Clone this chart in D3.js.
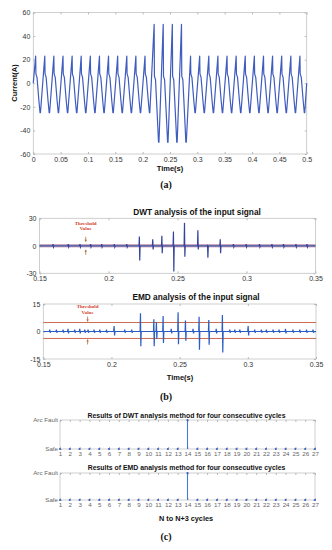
<!DOCTYPE html>
<html>
<head>
<meta charset="utf-8">
<script src="https://cdn.jsdelivr.net/npm/d3@7"></script>
<style>
  body { margin: 0; background: #fff; }
  svg { display: block; font-family: "Liberation Sans", Arial, sans-serif; }
</style>
</head>
<body>
<div id="chart"></div>
<script>
// ---- (a) current waveform, one entry per cycle (60 Hz, 30 cycles)
var peakTimes = [0.0043, 0.0210, 0.0376, 0.0543, 0.0710, 0.0876, 0.1043, 0.1210, 0.1376, 0.1543,
  0.1710, 0.1876, 0.2043, 0.2210, 0.2376, 0.2543, 0.2710, 0.2876, 0.3043, 0.3210,
  0.3376, 0.3543, 0.3710, 0.3876, 0.4043, 0.4210, 0.4376, 0.4543, 0.4710, 0.4876];
var peakValues = [23, 23, 23, 23, 23, 23, 23, 23, 23, 23, 23, 23, 23, 50, 50, 50, 50,
  23, 23, 23, 23, 23, 23, 23, 23, 23, 23, 23, 23, 23];
var shoulderValues = [6, 6, 6, 6, 6, 6, 6, 6, 6, 6, 6, 6, 6, 4, 4, 4, 4,
  6, 6, 6, 6, 6, 6, 6, 6, 6, 6, 6, 6, 6];
var troughValues = [-25, -25, -25, -25, -25, -25, -25, -25, -25, -25, -25, -25, -25, -50, -50, -50, -50,
  -25, -25, -25, -25, -25, -25, -25, -25, -25, -25, -25, -25, -25];
var currentStart = 0, currentEnd = 0;
var timeTicksA = [0, 0.05, 0.1, 0.15, 0.2, 0.25, 0.3, 0.35, 0.4, 0.45, 0.5];
var currentTicks = [-60, -40, -20, 0, 20, 40, 60];

// ---- (b) DWT detail coefficients: spike times, positive and negative swing
var dwtSpikeTimes = [0.2225, 0.2322, 0.2388, 0.2472, 0.2552, 0.2649, 0.2719, 0.2811];
var dwtSpikeUp = [10, 7, 11, 15.5, 25, 17, 1, 7];
var dwtSpikeDown = [-16, -4, -8, -28, -12, -4, -13, -8];
var dwtSmallTimes = [0.160, 0.171, 0.1795, 0.1872, 0.1952, 0.2044, 0.2134,
  0.2907, 0.2999, 0.3096, 0.3186, 0.3270, 0.3360, 0.3440];
var dwtSmallAmp = [1.8, 1.8, 1.8, 1.8, 1.8, 1.8, 1.8, 1.8, 1.8, 1.8, 1.8, 1.8, 1.8, 1.8];
var dwtThreshold = [1.1, -1.1];
var dwtTicks = [-30, 0, 30];

// ---- (b) EMD IMF
var emdSpikeTimes = [0.2214, 0.2312, 0.2331, 0.2380, 0.2490, 0.2544, 0.2644, 0.2715, 0.2815];
var emdSpikeUp = [10, 6.7, 5, 8.5, 10.5, 6, 8, 6.3, 9];
var emdSpikeDown = [-8, -8, -4, -6.3, -7, -5, -10, -7.2, -11.4];
var emdSmallTimes = [0.1549, 0.1598, 0.1647, 0.1683, 0.1732, 0.1769, 0.1806, 0.1830, 0.1874,
  0.1916, 0.1965, 0.2021, 0.2099, 0.2150, 0.2440, 0.2600, 0.2770, 0.2869, 0.2906, 0.2943,
  0.3004, 0.3052, 0.3101, 0.3138, 0.3187, 0.3231, 0.3278, 0.3333, 0.3383, 0.3432, 0.3480];
var emdSmallAmp = [1, 1, 1, 1.5, 1, 1.5, 1, 1, 1, 1, 1, 3, 1, 1, 1.5, 1.5, 1.5, 1, 1, 1,
  3, 1, 1, 1, 1, 1, 1.5, 1, 1, 1, 1];
var emdThreshold = [4.9, -3.8];
var emdTicks = [-15, 0, 15];
var timeTicksB = [0.15, 0.2, 0.25, 0.3, 0.35];

// ---- (c) detection results per cycle group
var cycleGroups = d3.range(1, 28);
var dwtResult = [0, 0, 0, 0, 0, 0, 0, 0, 0, 0, 0, 0, 0, 1, 0, 0, 0, 0, 0, 0, 0, 0, 0, 0, 0, 0, 0];
var emdResult = [0, 0, 0, 0, 0, 0, 0, 0, 0, 0, 0, 0, 0, 1, 0, 0, 0, 0, 0, 0, 0, 0, 0, 0, 0, 0, 0];
var resultLabels = ["Safe", "Arc Fault"];

var svg = d3.select("#chart").append("svg").attr("width", 332).attr("height", 550);

function fmt(d) { return String(+d.toFixed(2)); }

// frame + inward ticks, matlab style
function makePanel(o) {
  var x = d3.scaleLinear().domain(o.xDomain).range([o.left, o.right]);
  var y = d3.scaleLinear().domain(o.yDomain).range([o.bottom, o.top]);
  var g = svg.append("g");
  g.append("rect")
    .attr("x", o.left).attr("y", o.top)
    .attr("width", o.right - o.left).attr("height", o.bottom - o.top)
    .attr("fill", "none").attr("stroke", "#c4c4c4").attr("stroke-width", 0.8);

  var bottom = g.append("g").attr("transform", "translate(0," + o.bottom + ")")
    .call(d3.axisBottom(x).tickValues(o.xTicks).tickFormat(o.xFmt || fmt)
      .tickSizeInner(-2).tickSizeOuter(0).tickPadding(o.xPad || 3));
  var top = g.append("g").attr("transform", "translate(0," + o.top + ")")
    .call(d3.axisTop(x).tickValues(o.xTicks).tickFormat("").tickSizeInner(-2).tickSizeOuter(0));
  var left = g.append("g").attr("transform", "translate(" + o.left + ",0)")
    .call(d3.axisLeft(y).tickValues(o.yTicks).tickFormat(o.yFmt || fmt)
      .tickSizeInner(-2).tickSizeOuter(0).tickPadding(o.yPad || 3));
  var right = g.append("g").attr("transform", "translate(" + o.right + ",0)")
    .call(d3.axisRight(y).tickValues(o.yTicks).tickFormat("").tickSizeInner(-2).tickSizeOuter(0));

  [bottom, top, left, right].forEach(function (a) {
    a.select(".domain").remove();
    a.selectAll(".tick line").attr("stroke", "#b8b8b8");
    a.selectAll("text").attr("fill", o.tickColor || "#333")
      .style("font-size", (o.tickSize || 7) + "px")
      .style("font-family", "'Liberation Sans', Arial, sans-serif");
  });
  return { x: x, y: y, g: g };
}

function label(txt, x, y, size, opts) {
  opts = opts || {};
  return svg.append("text").attr("x", x).attr("y", y)
    .attr("text-anchor", opts.anchor || "middle")
    .attr("font-size", size + "px")
    .attr("font-weight", opts.weight || "bold")
    .attr("font-family", opts.family || "'Liberation Sans', Arial, sans-serif")
    .attr("fill", opts.color || "#111")
    .attr("transform", opts.transform || null)
    .text(txt);
}

// ============ (a) ============
var pa = makePanel({
  left: 33.3, right: 306.7, top: 12.5, bottom: 154,
  xDomain: [0, 0.5], yDomain: [-60, 60],
  xTicks: timeTicksA, yTicks: currentTicks, tickSize: 7
});

// each cycle: sharp peak, quick drop onto a shoulder, slide down to the trough, rise to next peak
var currentPts = [[0, currentStart]];
peakTimes.forEach(function (t, i) {
  currentPts.push([t, peakValues[i]]);
  currentPts.push([t + 0.0005, shoulderValues[i] + 2]);
  currentPts.push([t + 0.0025, shoulderValues[i] - 1]);
  currentPts.push([t + 0.0060, troughValues[i] * 0.6]);
  currentPts.push([t + 0.0080, troughValues[i]]);
  currentPts.push([t + 0.0088, troughValues[i]]);
});
currentPts = currentPts.filter(function (p) { return p[0] <= 0.5; });
currentPts.push([0.5, currentEnd]);

pa.g.append("path")
  .datum(currentPts)
  .attr("fill", "none").attr("stroke", "#3f5cbf").attr("stroke-width", 1.2)
  .attr("stroke-linejoin", "round")
  .attr("d", d3.line().x(function (d) { return pa.x(d[0]); }).y(function (d) { return pa.y(d[1]); }));

label("Current(A)", 0, 0, 7.5, { transform: "translate(17,83) rotate(-90)" });
label("Time(s)", 170, 171, 7.5);
label("(a)", 166, 188, 10, { family: "'Liberation Serif', 'Times New Roman', serif" });

// ============ helpers for (b) ============
function spikeSeries(x0, x1, spT, spUp, spDn, smT, smA) {
  var ev = [];
  spT.forEach(function (t, i) { ev.push({ t: t, up: spUp[i], dn: spDn[i], w: 0.0004 }); });
  smT.forEach(function (t, i) { ev.push({ t: t, up: smA[i], dn: -smA[i] * 0.7, w: 0.0005 }); });
  ev.sort(function (a, b) { return a.t - b.t; });
  var pts = [[x0, 0]];
  ev.forEach(function (e) {
    pts.push([e.t - e.w, 0]);
    pts.push([e.t - e.w / 3, e.up]);
    pts.push([e.t + e.w / 3, e.dn]);
    pts.push([e.t + e.w, 0]);
  });
  pts.push([x1, 0]);
  return pts;
}

function arrowPair(p, tx, yTop, yBot, color) {
  // arrow pointing down onto upper threshold, arrow pointing up onto lower threshold
  var x = p.x(tx);
  [[yTop - 6, yTop - 1], [yBot + 6, yBot + 1]].forEach(function (s) {
    var dir = s[1] > s[0] ? 1 : -1;
    p.g.append("line").attr("x1", x).attr("x2", x).attr("y1", s[0]).attr("y2", s[1])
      .attr("stroke", color).attr("stroke-width", 0.8);
    p.g.append("path")
      .attr("d", "M" + (x - 1.3) + "," + (s[1] - dir * 2) + "L" + x + "," + s[1] + "L" + (x + 1.3) + "," + (s[1] - dir * 2) + "Z")
      .attr("fill", color);
  });
}

// ============ (b) DWT ============
label("DWT analysis of the input signal", 197, 214.5, 8.3);
var pb1 = makePanel({
  left: 39.5, right: 315.5, top: 218.3, bottom: 273.3,
  xDomain: [0.15, 0.35], yDomain: [-30, 30],
  xTicks: timeTicksB, yTicks: dwtTicks, tickSize: 7
});
dwtThreshold.forEach(function (v) {
  pb1.g.append("line").attr("x1", pb1.x(0.15)).attr("x2", pb1.x(0.35))
    .attr("y1", pb1.y(v)).attr("y2", pb1.y(v))
    .attr("stroke", "#b07a9a").attr("stroke-width", 0.9);
});
pb1.g.append("path")
  .datum(spikeSeries(0.15, 0.35, dwtSpikeTimes, dwtSpikeUp, dwtSpikeDown, dwtSmallTimes, dwtSmallAmp))
  .attr("fill", "none").attr("stroke", "#34449a").attr("stroke-width", 1.2)
  .attr("d", d3.line().x(function (d) { return pb1.x(d[0]); }).y(function (d) { return pb1.y(d[1]); }));

label("Threshold", pb1.x(0.1835), 224.5, 5, { family: "'Liberation Serif', serif", color: "#d0402a" });
label("Value", pb1.x(0.1835), 230, 5, { family: "'Liberation Serif', serif", color: "#d0402a" });
arrowPair(pb1, 0.1835, pb1.y(dwtThreshold[0]) - 2, pb1.y(dwtThreshold[1]) + 2, "#b0703a");

// ============ (b) EMD ============
label("EMD analysis of the input signal", 196, 299.5, 8.3);
var pb2 = makePanel({
  left: 43.3, right: 316, top: 304, bottom: 359,
  xDomain: [0.15, 0.35], yDomain: [-15, 15],
  xTicks: timeTicksB, yTicks: emdTicks, tickSize: 7
});
emdThreshold.forEach(function (v) {
  pb2.g.append("line").attr("x1", pb2.x(0.15)).attr("x2", pb2.x(0.35))
    .attr("y1", pb2.y(v)).attr("y2", pb2.y(v))
    .attr("stroke", "#cc6a50").attr("stroke-width", 1);
});
pb2.g.append("path")
  .datum(spikeSeries(0.15, 0.35, emdSpikeTimes, emdSpikeUp, emdSpikeDown, emdSmallTimes, emdSmallAmp))
  .attr("fill", "none").attr("stroke", "#2a5cc4").attr("stroke-width", 1.2)
  .attr("d", d3.line().x(function (d) { return pb2.x(d[0]); }).y(function (d) { return pb2.y(d[1]); }));

label("Threshold", pb2.x(0.1825), 307.5, 5, { family: "'Liberation Serif', serif", color: "#d0402a" });
label("Value", pb2.x(0.1825), 313.5, 5, { family: "'Liberation Serif', serif", color: "#d0402a" });
arrowPair(pb2, 0.1825, pb2.y(emdThreshold[0]), pb2.y(emdThreshold[1]), "#b0703a");

label("Time(s)", 180, 379.5, 7.5);
label("(b)", 166, 400, 10, { family: "'Liberation Serif', 'Times New Roman', serif" });

// ============ (c) ============
function resultPanel(title, titleY, top, bottom, values) {
  label(title, 186.5, titleY, 6.9);
  var p = makePanel({
    left: 60, right: 315, top: top, bottom: bottom,
    xDomain: [1, 27], yDomain: [0, 1],
    xTicks: cycleGroups, yTicks: [0, 1],
    xFmt: function (d) { return d; },
    yFmt: function (d) { return resultLabels[d]; },
    tickSize: 6.2, tickColor: "#666", xPad: 2.5, yPad: 2
  });
  var pts = values.map(function (v, i) { return [cycleGroups[i], v]; });
  p.g.selectAll(".stem").data(pts.filter(function (d) { return d[1] > 0; }))
    .enter().append("line")
    .attr("x1", function (d) { return p.x(d[0]); }).attr("x2", function (d) { return p.x(d[0]); })
    .attr("y1", p.y(0)).attr("y2", function (d) { return p.y(d[1]); })
    .attr("stroke", "#4a78d0").attr("stroke-width", 1.1);
  p.g.selectAll(".dot").data(pts)
    .enter().append("circle")
    .attr("cx", function (d) { return p.x(d[0]); }).attr("cy", function (d) { return p.y(d[1]); })
    .attr("r", 1.1).attr("fill", "#3a5cc0");
  return p;
}

resultPanel("Results of DWT analysis method for four consecutive cycles", 417.5, 420, 449, dwtResult);
resultPanel("Results of EMD analysis method for four consecutive cycles", 469.5, 473, 500, emdResult);

label("N to N+3 cycles", 186, 521, 7.3);
label("(c)", 166, 540, 10, { family: "'Liberation Serif', 'Times New Roman', serif" });
</script>
</body>
</html>
